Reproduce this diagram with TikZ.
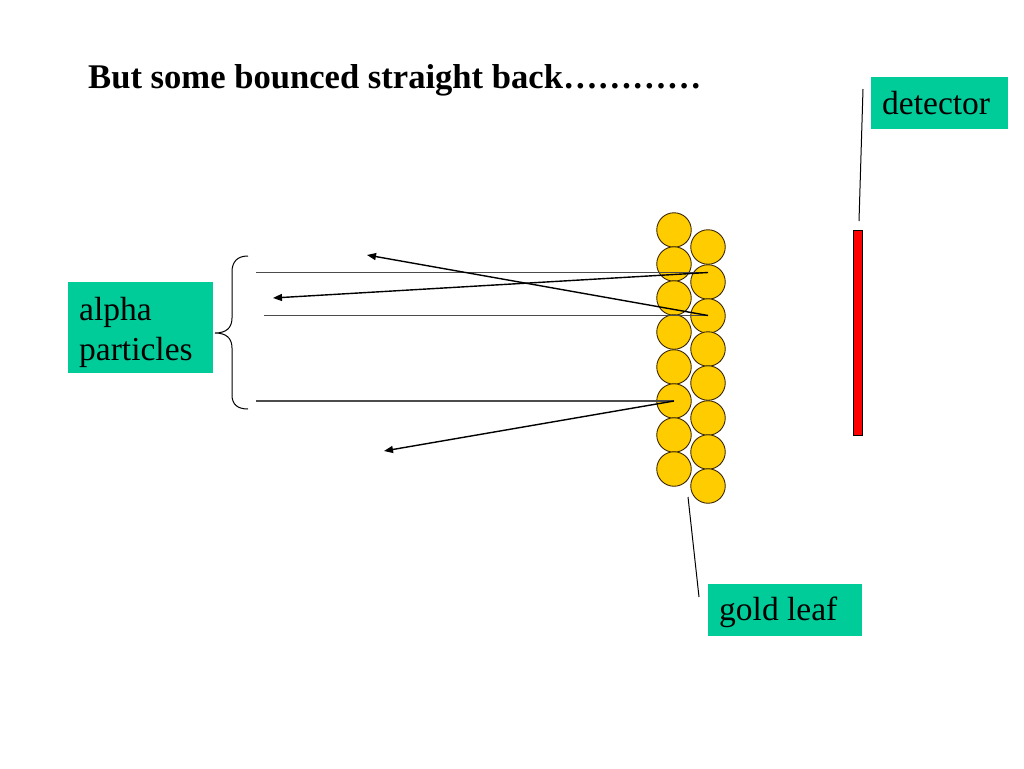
\documentclass[tikz,border=0pt]{standalone}
\usepackage{fontspec}
\setmainfont{Liberation Serif}
\usetikzlibrary{arrows.meta}
\definecolor{tealbox}{RGB}{0,204,153}
\definecolor{gold}{RGB}{255,204,0}
\definecolor{goldedge}{RGB}{60,40,0}
\begin{document}
\begin{tikzpicture}[x=1pt,y=-1pt,
  atom/.style={circle,draw=goldedge,fill=gold,line width=0.9pt,minimum size=34.5pt,inner sep=0pt},
  labelbox/.style={fill=tealbox,inner sep=0pt,anchor=north west},
  labeltext/.style={anchor=base west,inner sep=0pt,font=\fontsize{33.5}{40}\selectfont},
  inray/.style={draw=black!70,line width=1.1pt},
  outray/.style={draw=black,line width=1.4pt,-{Triangle[length=9pt,width=7pt]}},
  pointer/.style={draw=black,line width=1pt}]
\useasboundingbox (0,0) rectangle (1024,768);
\fill[white] (0,0) rectangle (1024,768);
% title
\node[anchor=base west,inner sep=0pt,font=\fontsize{34.6}{40}\selectfont\bfseries] (title) at (88,88.5) {But some bounced straight back\dots\dots\dots\dots};
% gold atoms
\foreach \i/\y in {1/230,2/264,3/298,4/332,5/367,6/401,7/435,8/469}
  \node[atom] (L\i) at (674,\y) {};
\foreach \i/\y in {1/247,2/282,3/316,4/349,5/383,6/418,7/452,8/486}
  \node[atom] (R\i) at (708,\y) {};
% incoming rays
\coordinate (s1) at (256,272.5);
\coordinate (s2) at (264,315.5);
\coordinate (s3) at (256,401);
\coordinate (h1) at (708,272.5);
\coordinate (h2) at (708,315.5);
\coordinate (h3) at (674,401);
\draw[inray] (s1) -- (h1);
\draw[inray] (s2) -- (h2);
\draw[inray] (s3) -- (h3);
% bounced rays
\coordinate (e1) at (273,298);
\coordinate (e2) at (367,255);
\coordinate (e3) at (384,451);
\draw[outray] (h1) -- (e1);
\draw[outray] (h2) -- (e2);
\draw[outray] (h3) -- (e3);
% brace
\draw[line width=1pt] (248,256) .. controls (237,256) and (232,262) .. (232,272) -- (232,318)
  .. controls (232,328) and (226,333) .. (215,333)
  .. controls (226,333) and (232,338) .. (232,348) -- (232,395)
  .. controls (232,404) and (237,409) .. (248,409);
% labels
\node[labelbox,minimum width=145pt,minimum height=91pt] (alpha) at (68,282) {};
\node[labeltext] (alphatxt) at (79,320) {alpha};
\node[labeltext] (parttxt) at (79,360) {particles};
\node[labelbox,minimum width=137pt,minimum height=52pt] (det) at (871,77) {};
\node[labeltext] (dettxt) at (882,114) {detector};
\node[labelbox,minimum width=154pt,minimum height=52pt] (gold) at (708,584) {};
\node[labeltext] (goldtxt) at (719,620) {gold leaf};
% detector bar
\node[draw=black,fill=red,line width=0.8pt,minimum width=9pt,minimum height=205pt,inner sep=0pt] (bar) at (857.5,332.5) {};
% pointers
\coordinate (dp1) at (863,89);
\coordinate (dp2) at (859,221);
\draw[pointer] (dp1) -- (dp2);
\coordinate (gp1) at (688,497);
\coordinate (gp2) at (699,597);
\draw[pointer] (gp1) -- (gp2);
\end{tikzpicture}
\end{document}
